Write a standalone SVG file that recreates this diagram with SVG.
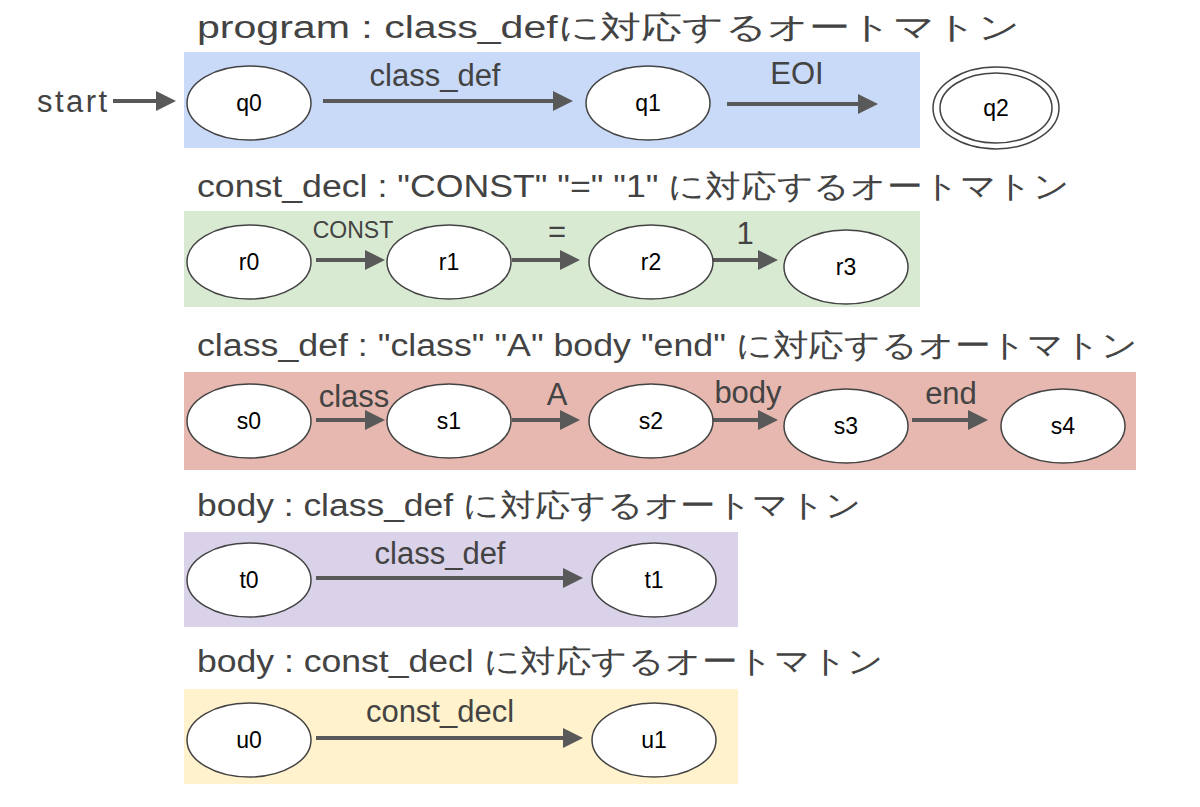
<svg xmlns="http://www.w3.org/2000/svg" width="1200" height="807" viewBox="0 0 1200 807">
<style>
text{font-family:"Liberation Sans",Arial,sans-serif;fill:#434343}
.t{font-size:31px}
.l{font-size:31px;text-anchor:middle}
.n{font-size:23px;text-anchor:middle;fill:#000}
ellipse{fill:#fff;stroke:#434343;stroke-width:1.5}
.c line{stroke:#595959;stroke-width:4;marker-end:url(#a)}
</style>
<defs><marker id="a" markerWidth="5" markerHeight="5" refX="4" refY="2.5" orient="auto" markerUnits="strokeWidth"><path d="M0,0L5,2.5L0,5z" fill="#595959"/></marker></defs>
<rect x="184" y="52" width="736" height="96" fill="#c9daf8"/>
<rect x="184" y="211" width="736" height="96" fill="#d9ead3"/>
<rect x="184" y="372" width="952" height="98" fill="#e6b8af"/>
<rect x="184" y="532" width="554" height="95" fill="#d9d2e9"/>
<rect x="184" y="689" width="554" height="95" fill="#fff2cc"/>
<text class="t" x="197" y="38" textLength="823" lengthAdjust="spacingAndGlyphs">program : class_defに対応するオートマトン</text>
<text class="t" x="197" y="197" textLength="873" lengthAdjust="spacingAndGlyphs">const_decl : "CONST" "=" "1" に対応するオートマトン</text>
<text class="t" x="197" y="356" textLength="941" lengthAdjust="spacingAndGlyphs">class_def : "class" "A" body "end" に対応するオートマトン</text>
<text class="t" x="197" y="516" textLength="665" lengthAdjust="spacingAndGlyphs">body : class_def に対応するオートマトン</text>
<text class="t" x="197" y="672" textLength="687" lengthAdjust="spacingAndGlyphs">body : const_decl に対応するオートマトン</text>
<text class="t" x="37" y="112" textLength="70">start</text>
<g class="c">
<line x1="113" y1="101" x2="172" y2="101"/>
<line x1="323" y1="101" x2="569" y2="101"/>
<line x1="727" y1="104" x2="874" y2="104"/>
<line x1="316" y1="260" x2="381" y2="260"/>
<line x1="512" y1="260" x2="576" y2="260"/>
<line x1="712" y1="260" x2="774" y2="260"/>
<line x1="316" y1="420" x2="381" y2="420"/>
<line x1="512" y1="420" x2="576" y2="420"/>
<line x1="712" y1="420" x2="774" y2="420"/>
<line x1="912" y1="420" x2="984" y2="420"/>
<line x1="316" y1="578" x2="579" y2="578"/>
<line x1="316" y1="738" x2="579" y2="738"/>
<text class="l" x="435" y="86">class_def</text>
<text class="l" x="797" y="84">EOI</text>
<text class="l" x="353" y="238" style="font-size:23px">CONST</text>
<text class="l" x="557" y="242">=</text>
<text class="l" x="745" y="244">1</text>
<text class="l" x="354" y="407">class</text>
<text class="l" x="557" y="405">A</text>
<text class="l" x="748" y="403">body</text>
<text class="l" x="951" y="404">end</text>
<text class="l" x="440" y="564">class_def</text>
<text class="l" x="440" y="722">const_decl</text>
</g>
<g id="q0"><ellipse cx="249" cy="103" rx="62" ry="37"/><text class="n" x="249" y="111">q0</text></g>
<g id="q1"><ellipse cx="648" cy="103" rx="62" ry="37"/><text class="n" x="648" y="111">q1</text></g>
<g id="q2"><ellipse cx="996" cy="108" rx="63" ry="41"/><ellipse cx="996" cy="108" rx="56" ry="35"/><text class="n" x="996" y="116">q2</text></g>
<g id="r0"><ellipse cx="249" cy="262" rx="62" ry="37"/><text class="n" x="249" y="270">r0</text></g>
<g id="r1"><ellipse cx="449" cy="262" rx="62" ry="37"/><text class="n" x="449" y="270">r1</text></g>
<g id="r2"><ellipse cx="651" cy="262" rx="62" ry="37"/><text class="n" x="651" y="270">r2</text></g>
<g id="r3"><ellipse cx="846" cy="267" rx="62" ry="37"/><text class="n" x="846" y="275">r3</text></g>
<g id="s0"><ellipse cx="249" cy="421" rx="62" ry="37"/><text class="n" x="249" y="429">s0</text></g>
<g id="s1"><ellipse cx="449" cy="421" rx="62" ry="37"/><text class="n" x="449" y="429">s1</text></g>
<g id="s2"><ellipse cx="651" cy="421" rx="62" ry="37"/><text class="n" x="651" y="429">s2</text></g>
<g id="s3"><ellipse cx="846" cy="426" rx="62" ry="37"/><text class="n" x="846" y="434">s3</text></g>
<g id="s4"><ellipse cx="1063" cy="426" rx="62" ry="37"/><text class="n" x="1063" y="434">s4</text></g>
<g id="t0"><ellipse cx="249" cy="580" rx="62" ry="37"/><text class="n" x="249" y="588">t0</text></g>
<g id="t1"><ellipse cx="654" cy="580" rx="62" ry="37"/><text class="n" x="654" y="588">t1</text></g>
<g id="u0"><ellipse cx="249" cy="740" rx="62" ry="37"/><text class="n" x="249" y="748">u0</text></g>
<g id="u1"><ellipse cx="654" cy="740" rx="62" ry="37"/><text class="n" x="654" y="748">u1</text></g>
</svg>
